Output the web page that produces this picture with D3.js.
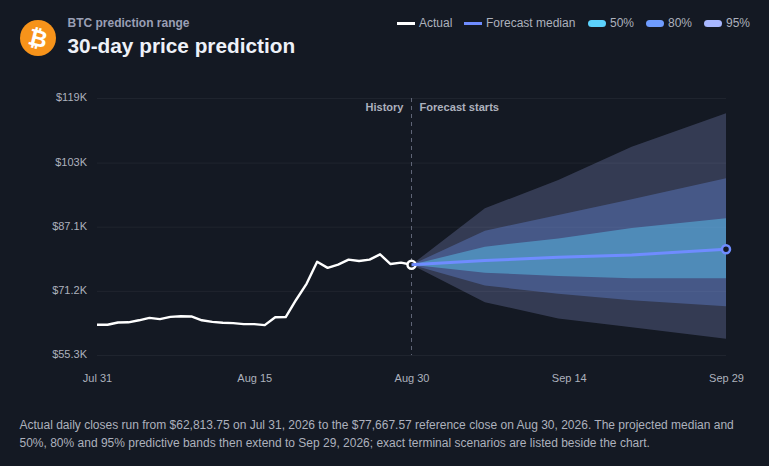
<!DOCTYPE html>
<html>
<head>
<meta charset="utf-8">
<script src="https://cdn.jsdelivr.net/npm/d3@7"></script>
<style>
  html, body { margin: 0; padding: 0; background: #141923; }
  body { width: 769px; height: 466px; overflow: hidden; position: relative; font-family: "Liberation Sans", Arial, sans-serif; }
  svg { position: absolute; left: 0; top: 0; }
  #note { position: absolute; left: 19.5px; top: 416px; width: 735px; margin: 0; font-size: 12px; line-height: 18px; color: #adb1bd; }
</style>
</head>
<body>
<svg id="chart" width="769" height="466"></svg>
<p id="note">Actual daily closes run from $62,813.75 on Jul 31, 2026 to the $77,667.57 reference close on Aug 30, 2026. The projected median and 50%, 80% and 95% predictive bands then extend to Sep 29, 2026; exact terminal scenarios are listed beside the chart.</p>
<script>
// values in $K
const actual = [62.81, 62.79, 63.35, 63.4, 63.9, 64.5, 64.2, 64.75, 64.9, 64.85, 63.9, 63.5,
  63.3, 63.2, 62.95, 62.95, 62.7, 64.65, 64.7, 69.0, 73.0, 78.4, 76.9, 77.7, 78.95, 78.6,
  78.95, 80.25, 77.85, 78.2, 77.67];

const forecastDays = [30, 37, 44, 51, 60];
const median = [77.67, 78.7, 79.5, 80.1, 81.5];
const p50lo = [77.67, 75.7, 74.9, 74.3, 74.3];
const p50hi = [77.67, 82.14, 84.2, 86.8, 89.2];
const p80lo = [77.67, 72.5, 70.5, 68.9, 67.4];
const p80hi = [77.67, 86.1, 90.0, 93.9, 99.1];
const p95lo = [77.67, 68.4, 64.35, 62.2, 59.3];
const p95hi = [77.67, 91.66, 98.67, 106.9, 115.2];

const yTicks = [55.3, 71.2, 87.1, 103, 119];
const xTickDays = [0, 15, 30, 45, 60];
const xTickLabels = ["Jul 31", "Aug 15", "Aug 30", "Sep 14", "Sep 29"];

const legendLines = [
  { label: "Actual", color: "#ffffff", x: 397 },
  { label: "Forecast median", color: "#6f8cff", x: 464 }
];
const legendBands = [
  { label: "50%", color: "#5cd2fd", x: 588 },
  { label: "80%", color: "#6f9cff", x: 646 },
  { label: "95%", color: "#a8b7ff", x: 704 }
];

const svg = d3.select("#chart");

const x = d3.scaleLinear().domain([0, 60]).range([97, 726]);
const y = d3.scaleLinear().domain([55.3, 119]).range([355, 98]);

// grid + axes
const yAxis = d3.axisLeft(y).tickValues(yTicks).tickSize(0).tickPadding(10)
  .tickFormat(d => "$" + d + "K");
const gy = svg.append("g").attr("transform", "translate(97,0)").call(yAxis);
gy.select(".domain").remove();
gy.selectAll("line").attr("x1", 0).attr("x2", 629).attr("stroke", "#ffffff").attr("stroke-opacity", 0.05);
gy.selectAll("text").attr("dy", "0.25em");

const xAxis = d3.axisBottom(x).tickValues(xTickDays).tickSize(0).tickPadding(19)
  .tickFormat((d, i) => xTickLabels[i]);
const gx = svg.append("g").attr("transform", "translate(0,355)").call(xAxis);
gx.select(".domain").remove();

svg.selectAll(".tick text")
  .attr("fill", "#adb1bd")
  .style("font-family", '"Liberation Sans", Arial, sans-serif')
  .style("font-size", "11px");

// bands
const bands = [
  { lo: p95lo, hi: p95hi, color: "#a8b7ff", opacity: 0.22 },
  { lo: p80lo, hi: p80hi, color: "#6f9cff", opacity: 0.3 },
  { lo: p50lo, hi: p50hi, color: "#5cd2fd", opacity: 0.42 }
];
bands.forEach(b => {
  const area = d3.area()
    .x((d, i) => x(forecastDays[i]))
    .y0((d, i) => y(b.lo[i]))
    .y1((d, i) => y(b.hi[i]));
  svg.append("path").attr("d", area(forecastDays)).attr("fill", b.color).attr("fill-opacity", b.opacity);
});

// forecast start marker
svg.append("line")
  .attr("x1", x(30)).attr("x2", x(30)).attr("y1", 98).attr("y2", 355)
  .attr("stroke", "#5f6577").attr("stroke-dasharray", "4 4");
svg.append("text").attr("x", x(30) - 8).attr("y", 111).attr("text-anchor", "end")
  .attr("fill", "#adb1bd").attr("font-size", 11).attr("font-weight", 700).text("History");
svg.append("text").attr("x", x(30) + 8).attr("y", 111)
  .attr("fill", "#adb1bd").attr("font-size", 11.1).attr("font-weight", 700).text("Forecast starts");

// lines
const actualLine = d3.line().x((d, i) => x(i)).y(d => y(d));
svg.append("path").attr("d", actualLine(actual)).attr("fill", "none")
  .attr("stroke", "#ffffff").attr("stroke-width", 2.4).attr("stroke-linejoin", "round");

const last = actual[actual.length - 1];
svg.append("circle").attr("cx", x(30)).attr("cy", y(last)).attr("r", 4)
  .attr("fill", "#141923").attr("stroke", "#ffffff").attr("stroke-width", 2.5);

const medianLine = d3.line().x((d, i) => x(forecastDays[i])).y(d => y(d));
svg.append("path").attr("d", medianLine(median)).attr("fill", "none")
  .attr("stroke", "#6f8cff").attr("stroke-width", 3).attr("stroke-linejoin", "round");

svg.append("circle").attr("cx", x(60)).attr("cy", y(median[median.length - 1])).attr("r", 4)
  .attr("fill", "#141923").attr("stroke", "#6f8cff").attr("stroke-width", 2.5);

// header
svg.append("circle").attr("cx", 38).attr("cy", 38).attr("r", 18).attr("fill", "#f7931a");
svg.append("text").attr("x", 38).attr("y", 38).attr("text-anchor", "middle").attr("dy", "0.36em")
  .attr("transform", "rotate(14 38 38)")
  .attr("fill", "#ffffff").attr("font-size", 23).attr("font-weight", 700)
  .style("font-family", '"DejaVu Sans", sans-serif').text("\u20bf");
svg.append("text").attr("x", 67.5).attr("y", 27).attr("fill", "#9a9fb5")
  .attr("font-size", 12).attr("font-weight", 700).text("BTC prediction range");
svg.append("text").attr("x", 67.5).attr("y", 53).attr("fill", "#eef1f8")
  .attr("font-size", 20.8).attr("font-weight", 700).text("30-day price prediction");

// legend
legendLines.forEach(d => {
  svg.append("rect").attr("x", d.x).attr("y", 22).attr("width", 18).attr("height", 3).attr("fill", d.color);
  svg.append("text").attr("x", d.x + 22).attr("y", 27).attr("fill", "#adb1bd").attr("font-size", 12).text(d.label);
});
legendBands.forEach(d => {
  svg.append("rect").attr("x", d.x).attr("y", 20).attr("width", 18).attr("height", 7).attr("rx", 3.5).attr("fill", d.color);
  svg.append("text").attr("x", d.x + 22).attr("y", 27).attr("fill", "#adb1bd").attr("font-size", 12).text(d.label);
});
d3.selectAll("svg text").filter(function () { return !this.style.fontFamily; })
  .style("font-family", '"Liberation Sans", Arial, sans-serif');
</script>
</body>
</html>
